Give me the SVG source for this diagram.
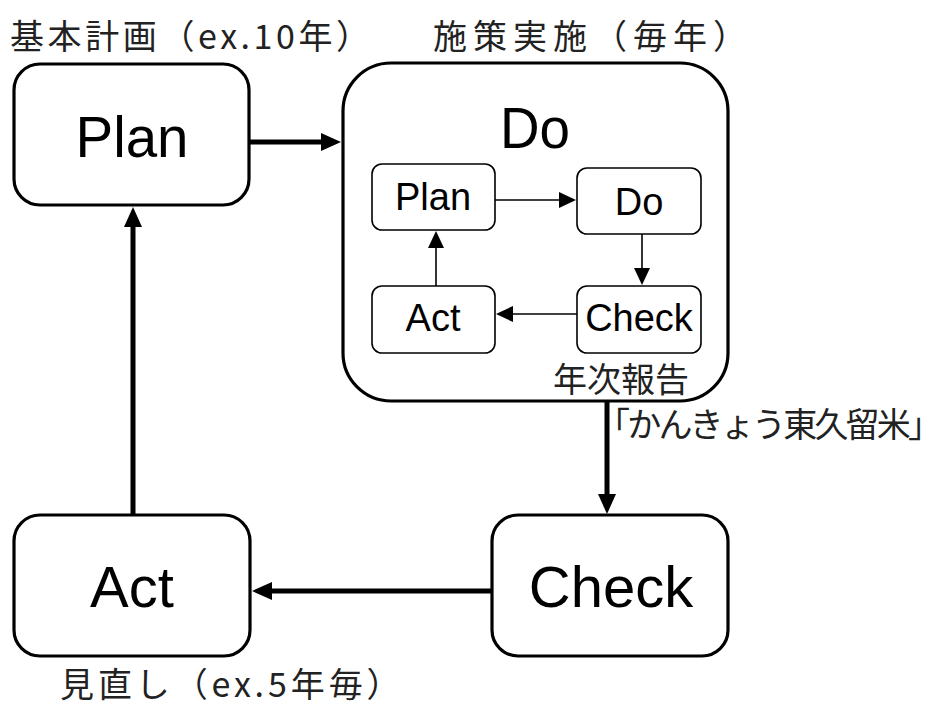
<svg xmlns="http://www.w3.org/2000/svg" width="944" height="706" viewBox="0 0 944 706">
<style>
.bg{fill:#ffffff}
.box{fill:#ffffff;stroke:#000000;stroke-width:3.2}
.ibox{fill:#ffffff;stroke:#000000;stroke-width:1.6}
.big{font-family:"Liberation Sans",Arial,sans-serif;font-size:58px;fill:#000000;text-anchor:middle}
.small{font-family:"Liberation Sans",Arial,sans-serif;font-size:38px;fill:#000000;text-anchor:middle}
.jp{font-family:"Noto Sans CJK JP","Noto Sans",sans-serif;font-size:34px;fill:#222222}
.thick{stroke:#000000;stroke-width:5;fill:none;marker-end:url(#ah)}
.thin{stroke:#000000;stroke-width:1.6;fill:none;marker-end:url(#ahs)}
</style>
<defs>
<marker id="ah" markerUnits="userSpaceOnUse" markerWidth="20" markerHeight="18" refX="10" refY="9" orient="auto">
<path d="M0,0 L20,9 L0,18 Z" fill="#000000"/>
</marker>
<marker id="ahs" markerUnits="userSpaceOnUse" markerWidth="17" markerHeight="16" refX="9" refY="8" orient="auto">
<path d="M0,0 L17,8 L0,16 Z" fill="#000000"/>
</marker>
</defs>
<rect class="bg" x="0" y="0" width="944" height="706"/>

<g id="label-plan">
<text class="jp" x="10" y="49" font-size="38" letter-spacing="3.6">基本計画（ex.10年）</text>
</g>
<g id="label-do">
<text class="jp" x="433" y="49" font-size="38" letter-spacing="6">施策実施（毎年）</text>
</g>
<g id="label-act">
<text class="jp" x="60" y="697" font-size="37" letter-spacing="3.9">見直し（ex.5年毎）</text>
</g>

<g id="node-plan">
<rect class="box" x="14" y="64" width="235" height="141" rx="26" ry="26"/>
<text class="big" x="132" y="157" font-size="61" textLength="113" lengthAdjust="spacingAndGlyphs">Plan</text>
</g>

<g id="node-do">
<rect class="box" x="343" y="63" width="385" height="338" rx="48" ry="48"/>
<text class="big" x="535" y="148" font-size="62" textLength="70" lengthAdjust="spacingAndGlyphs">Do</text>
<text class="jp" x="553" y="392" font-size="33" textLength="136" lengthAdjust="spacing">年次報告</text>
</g>

<g id="node-inner-plan">
<rect class="ibox" x="372" y="164" width="123" height="66" rx="10" ry="10"/>
<text class="small" x="433" y="210">Plan</text>
</g>
<g id="node-inner-do">
<rect class="ibox" x="577" y="168" width="124" height="66" rx="10" ry="10"/>
<text class="small" x="639" y="215">Do</text>
</g>
<g id="node-inner-check">
<rect class="ibox" x="577" y="286" width="124" height="67" rx="10" ry="10"/>
<text class="small" x="639" y="331">Check</text>
</g>
<g id="node-inner-act">
<rect class="ibox" x="372" y="286" width="123" height="67" rx="10" ry="10"/>
<text class="small" x="433" y="331">Act</text>
</g>

<g id="node-check">
<rect class="box" x="492" y="515" width="236" height="141" rx="26" ry="26"/>
<text class="big" x="611" y="607">Check</text>
</g>

<g id="node-act">
<rect class="box" x="14" y="515" width="236" height="141" rx="26" ry="26"/>
<text class="big" x="132" y="607">Act</text>
</g>

<g id="connectors">
<line class="thick" x1="249" y1="142" x2="331" y2="142"/>
<line class="thick" x1="607" y1="401" x2="607" y2="504"/>
<line class="thick" x1="492" y1="591" x2="262" y2="591"/>
<line class="thick" x1="133" y1="515" x2="133" y2="217"/>
<line class="thin" x1="495" y1="200" x2="568" y2="200"/>
<line class="thin" x1="642" y1="234" x2="642" y2="277"/>
<line class="thin" x1="577" y1="314" x2="504" y2="314"/>
<line class="thin" x1="436" y1="286" x2="436" y2="239"/>
<text class="jp" x="596" y="437" font-size="35" textLength="346" lengthAdjust="spacing">「かんきょう東久留米」</text>
</g>
</svg>
